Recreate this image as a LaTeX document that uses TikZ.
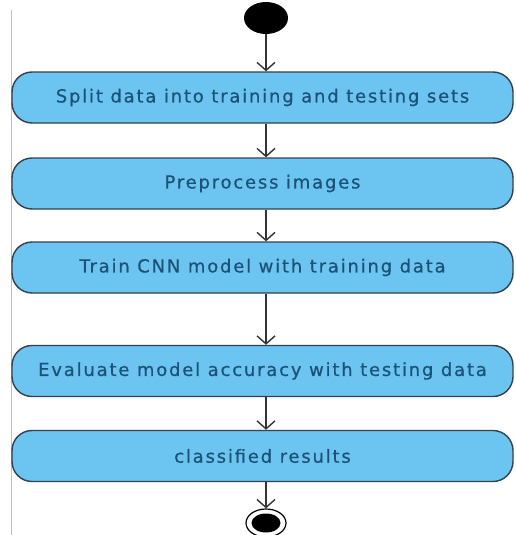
\documentclass[tikz,border=0pt]{standalone}
\usepackage{fontspec}
\setmainfont{DejaVu Sans}[LetterSpace=10,FakeBold=0.6]
\usetikzlibrary{arrows.meta,shapes.geometric}
\definecolor{boxfill}{RGB}{108,196,240}
\definecolor{boxline}{RGB}{50,64,80}
\definecolor{boxtext}{RGB}{28,82,120}
\tikzset{
  activity/.style={draw=boxline, line width=1.4pt, fill=boxfill, rounded corners=20pt,
    minimum width=501pt, minimum height=51pt, text=boxtext,
    font=\fontsize{18}{21}\selectfont, inner sep=0pt},
  flow/.style={draw=black!80, line width=1.4pt, -{Straight Barb[length=8pt,width=18pt,line width=1.4pt]}},
}
\begin{document}
\begin{tikzpicture}[x=1pt,y=-1pt]
\useasboundingbox (0,0) rectangle (515,535);
\draw[black!25, line width=0.8pt] (11,10) -- (11,535);
\node[ellipse, fill=black, minimum width=44pt, minimum height=32pt, inner sep=0pt] (start) at (266,18) {};
\node[activity] (a1) at (262.5,97.5) {Split data into training and testing sets};
\node[activity] (a2) at (262.5,183.5) {Preprocess images};
\node[activity] (a3) at (262.5,267.5) {Train CNN model with training data};
\node[activity] (a4) at (262.5,371) {Evaluate model accuracy with testing data};
\node[activity] (a5) at (262.5,456) {classified results};
\node[ellipse, draw=black, line width=1.2pt, minimum width=40pt, minimum height=28pt, inner sep=0pt] (end) at (266,523) {};
\node[ellipse, fill=black, minimum width=29pt, minimum height=19pt, inner sep=0pt] (endin) at (end) {};
\draw[flow] (start.south) -- (start.south |- a1.north);
\draw[flow] (a1.south -| start) -- (a2.north -| start);
\draw[flow] (a2.south -| start) -- (a3.north -| start);
\draw[flow] (a3.south -| start) -- (a4.north -| start);
\draw[flow] (a4.south -| start) -- (a5.north -| start);
\draw[flow] (a5.south -| start) -- (end.north);
\end{tikzpicture}
\end{document}
